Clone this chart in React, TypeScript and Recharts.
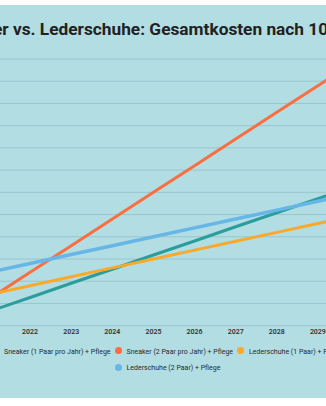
import React from 'react';
import { LineChart, Line, XAxis, YAxis, CartesianGrid, Legend } from 'recharts';

const years = ['2021', '2022', '2023', '2024', '2025', '2026', '2027', '2028', '2029', '2030'];
const sneaker1 = [64, 127, 191, 254, 318, 381, 445, 508, 572, 635];
const sneaker2 = [120, 240, 360, 480, 600, 720, 840, 960, 1080, 1200];
const leder1 = [140, 180, 220, 260, 300, 340, 380, 420, 460, 500];
const leder2 = [240, 280, 320, 360, 400, 440, 480, 520, 560, 600];
const yTicks = [0, 100, 200, 300, 400, 500, 600, 700, 800, 900, 1000, 1100, 1200];

const seriesNames = [
  'Sneaker (1 Paar pro Jahr) + Pflege',
  'Sneaker (2 Paar pro Jahr) + Pflege',
  'Lederschuhe (1 Paar) + Pflege',
  'Lederschuhe (2 Paar) + Pflege',
];

const data = years.map((y, i) => ({
  year: y,
  s1: sneaker1[i],
  s2: sneaker2[i],
  l1: leder1[i],
  l2: leder2[i],
}));

const FONT = 'Roboto, "Noto Sans", sans-serif';

const renderLegend = (props: any) => {
  const payload = [...(props.payload || [])].sort(
    (a: any, b: any) => seriesNames.indexOf(a.value) - seriesNames.indexOf(b.value)
  );
  return (
    <div style={{ textAlign: 'center', fontFamily: FONT, fontSize: 7, lineHeight: '16px', color: '#2a2a2a' }}>
      {payload.map((entry: any, idx: number) => (
        <span key={idx} style={{ display: 'inline-block', margin: '0 2px', whiteSpace: 'nowrap' }}>
          <span
            style={{
              display: 'inline-block',
              width: 7,
              height: 7,
              borderRadius: '50%',
              background: entry.color,
              marginRight: 5,
              verticalAlign: 'middle',
              position: 'relative',
              top: -1,
            }}
          />
          <span style={{ verticalAlign: 'middle' }}>{entry.value}</span>
        </span>
      ))}
    </div>
  );
};

export default function App() {
  return (
    <div
      style={{
        position: 'absolute',
        left: -34,
        top: 5,
        width: 403,
        height: 393,
        background: '#b1dde3',
        overflow: 'hidden',
      }}
    >
      <div
        style={{
          height: 48,
          lineHeight: '48px',
          textAlign: 'center',
          fontFamily: FONT,
          fontWeight: 700,
          fontSize: 17.3,
          color: '#222',
          whiteSpace: 'nowrap',
          position: 'relative',
          left: -21,
        }}
      >
        Sneaker vs. Lederschuhe: Gesamtkosten nach 10 Jahren
      </div>
      <LineChart width={403} height={345} data={data} margin={{ top: 6, right: 10, left: 10, bottom: 22 }}>
        <CartesianGrid vertical={false} stroke="#9ac6cd" strokeWidth={1} />
        <XAxis
          dataKey="year"
          axisLine={false}
          tickLine={false}
          tickSize={0}
          tickMargin={3}
          height={18}
          interval={0}
          tick={{ fontSize: 7, fill: '#333', fontFamily: FONT, fontWeight: 600 }}
        />
        <YAxis
          domain={[0, 1200]}
          ticks={yTicks}
          interval={0}
          width={13}
          axisLine={false}
          tickLine={false}
          tick={{ fontSize: 7, fill: '#333', fontFamily: FONT }}
        />
        <Legend verticalAlign="bottom" content={renderLegend} />
        <Line type="linear" dataKey="s1" name={seriesNames[0]} stroke="#2a9d9c" strokeWidth={3} dot={false} isAnimationActive={false} />
        <Line type="linear" dataKey="s2" name={seriesNames[1]} stroke="#fb6e3f" strokeWidth={3} dot={false} isAnimationActive={false} />
        <Line type="linear" dataKey="l1" name={seriesNames[2]} stroke="#fba92a" strokeWidth={3} dot={false} isAnimationActive={false} />
        <Line type="linear" dataKey="l2" name={seriesNames[3]} stroke="#67b6e8" strokeWidth={3.5} dot={false} isAnimationActive={false} />
      </LineChart>
    </div>
  );
}
